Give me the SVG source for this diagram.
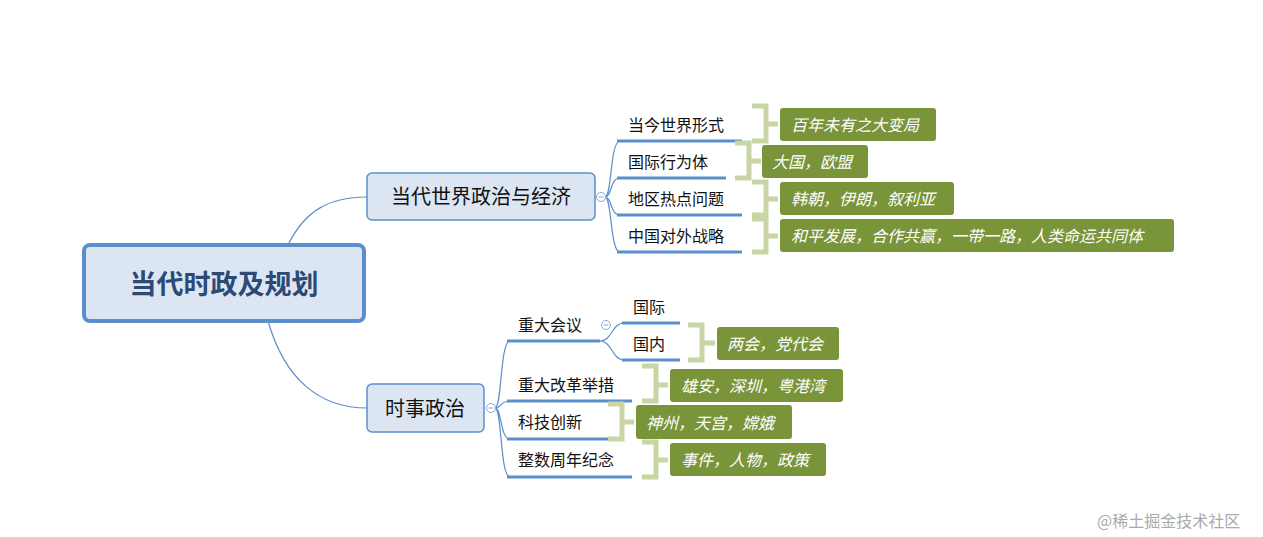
<svg xmlns="http://www.w3.org/2000/svg" width="1263" height="537" viewBox="0 0 1263 537">
<style>
text{font-family:"Noto Sans CJK SC","Liberation Sans",sans-serif}
.t{font-size:16px;fill:#111}
.ln{fill:none;stroke:#5b8fcb;stroke-width:1.2}
.ul{stroke:#5b8fcb;stroke-width:3}
.br{fill:none;stroke:#c8d6a5;stroke-width:5}
.bx{fill:#7a943a}
.bt{font-size:16px;fill:#fff;font-style:italic}
.cc{fill:#fff;stroke:#8aaad0;stroke-width:1}
</style>
<rect width="1263" height="537" fill="#fff"/>
<g id="connectors">
<path class="ln" d="M288,245 C305,210 330,197 367,197"/>
<path class="ln" d="M268,321 C285,380 320,408 367,408"/>
<path class="ln" d="M605,197 C612,197 610,141 620,141 M605,197 C612,197 610,178 620,178 M605,197 C612,197 610,215 620,215 M605,197 C612,197 610,252 620,252"/>
<path class="ln" d="M495,408 C502,408 500,341 510,341 M495,408 C502,408 500,401 510,401 M495,408 C502,408 500,439 510,439 M495,408 C502,408 500,477 510,477"/>
<path class="ln" d="M600,341 C612,341 612,323 624,323 M600,341 C612,341 612,360 624,360"/>
<line class="ul" x1="617" y1="141" x2="742" y2="141"/>
<line class="ul" x1="617" y1="178" x2="726" y2="178"/>
<line class="ul" x1="617" y1="215" x2="742" y2="215"/>
<line class="ul" x1="617" y1="252" x2="742" y2="252"/>
<line class="ul" x1="507" y1="341" x2="600" y2="341"/>
<line class="ul" x1="622" y1="323" x2="680" y2="323"/>
<line class="ul" x1="622" y1="360" x2="680" y2="360"/>
<line class="ul" x1="507" y1="401" x2="632" y2="401"/>
<line class="ul" x1="507" y1="439" x2="610" y2="439"/>
<line class="ul" x1="507" y1="477" x2="632" y2="477"/>
<path class="br" d="M752,106 H766 V141 H752 M766,124 H778"/>
<path class="br" d="M735,143 H749 V178 H735 M749,161 H761"/>
<path class="br" d="M752,182 H766 V215 H752 M766,199 H778"/>
<path class="br" d="M752,219 H766 V252 H752 M766,236 H778"/>
<path class="br" d="M688,325 H702 V360 H688 M702,343 H715"/>
<path class="br" d="M642,366 H656 V401 H642 M656,385 H668"/>
<path class="br" d="M608,404 H622 V439 H608 M622,422 H634"/>
<path class="br" d="M642,442 H656 V477 H642 M656,460 H668"/>
</g>
<g id="root"><rect x="84" y="245" width="280" height="76" rx="6" fill="#dce6f2" stroke="#5b8fcb" stroke-width="4"/><text x="224" y="294" text-anchor="middle" font-size="27" font-weight="bold" fill="#2c4a75">当代时政及规划</text></g>
<g id="nA"><rect x="367" y="173" width="228" height="47" rx="5" fill="#dce6f2" stroke="#5b8fcb" stroke-width="1.5"/><text x="481" y="204" text-anchor="middle" font-size="20" fill="#111">当代世界政治与经济</text><circle class="cc" cx="601" cy="197" r="4.5"/><line x1="598.5" y1="197" x2="603.5" y2="197" stroke="#8aaad0"/></g>
<g id="nB"><rect x="367" y="384" width="117" height="48" rx="5" fill="#dce6f2" stroke="#5b8fcb" stroke-width="1.5"/><text x="425" y="416" text-anchor="middle" font-size="20" fill="#111">时事政治</text><circle class="cc" cx="491" cy="408" r="4.5"/><line x1="488.5" y1="408" x2="493.5" y2="408" stroke="#8aaad0"/></g>
<g id="a1"><text class="t" x="628" y="131">当今世界形式</text></g>
<g id="a2"><text class="t" x="628" y="168">国际行为体</text></g>
<g id="a3"><text class="t" x="628" y="205">地区热点问题</text></g>
<g id="a4"><text class="t" x="628" y="242">中国对外战略</text></g>
<g id="b1"><text class="t" x="518" y="331">重大会议</text><circle class="cc" cx="606" cy="325" r="4.5"/><line x1="603.5" y1="325" x2="608.5" y2="325" stroke="#8aaad0"/></g>
<g id="b11"><text class="t" x="633" y="313">国际</text></g>
<g id="b12"><text class="t" x="633" y="350">国内</text></g>
<g id="b2"><text class="t" x="518" y="391">重大改革举措</text></g>
<g id="b3"><text class="t" x="518" y="428">科技创新</text></g>
<g id="b4"><text class="t" x="518" y="466">整数周年纪念</text></g>
<g id="l1"><rect class="bx" x="780" y="108" width="156" height="33" rx="3"/><text class="bt" x="791" y="131">百年未有之大变局</text></g>
<g id="l2"><rect class="bx" x="762" y="145" width="106" height="33" rx="3"/><text class="bt" x="772" y="168">大国，欧盟</text></g>
<g id="l3"><rect class="bx" x="780" y="182" width="174" height="33" rx="3"/><text class="bt" x="791" y="205">韩朝，伊朗，叙利亚</text></g>
<g id="l4"><rect class="bx" x="780" y="219" width="394" height="33" rx="3"/><text class="bt" x="791" y="242">和平发展，合作共赢，一带一路，人类命运共同体</text></g>
<g id="l5"><rect class="bx" x="717" y="327" width="122" height="33" rx="3"/><text class="bt" x="727" y="350">两会，党代会</text></g>
<g id="l6"><rect class="bx" x="670" y="369" width="173" height="33" rx="3"/><text class="bt" x="681" y="392">雄安，深圳，粤港湾</text></g>
<g id="l7"><rect class="bx" x="636" y="405" width="156" height="34" rx="3"/><text class="bt" x="646" y="429">神州，天宫，嫦娥</text></g>
<g id="l8"><rect class="bx" x="670" y="443" width="156" height="33" rx="3"/><text class="bt" x="681" y="466">事件，人物，政策</text></g>
<text x="1097" y="527" font-size="16" fill="#aaa">@稀土掘金技术社区</text>
</svg>
